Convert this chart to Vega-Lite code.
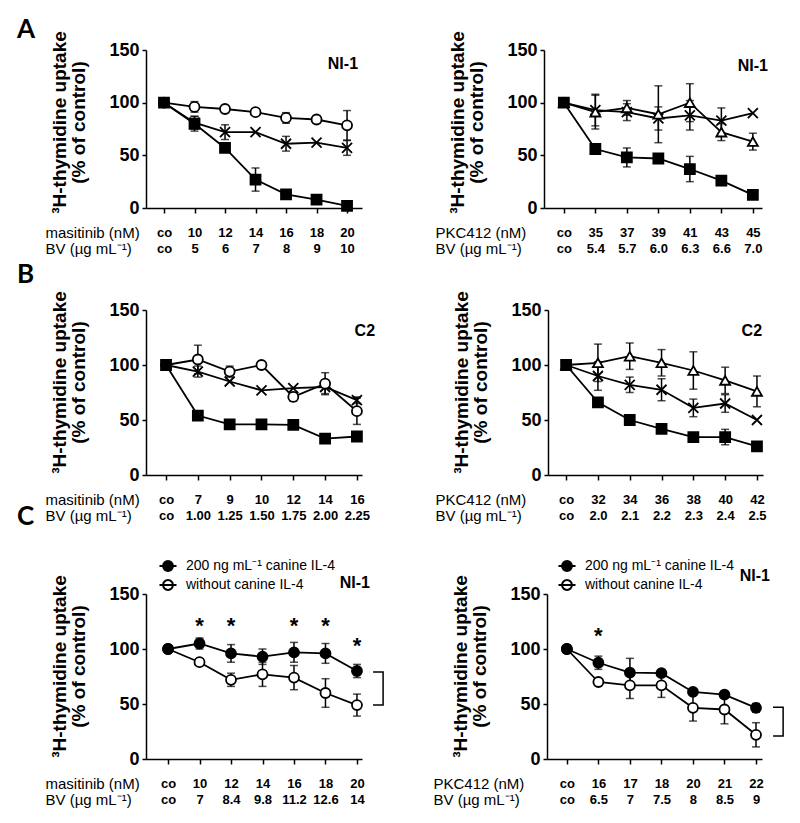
{
"$schema": "https://vega.github.io/schema/vega-lite/v6.json",
"autosize": {"type": "pad"},
"padding": {"left": 17, "top": 16, "right": 5, "bottom": 5},
"background": "white",
"config": {
  "font": "Liberation Sans",
  "view": {"stroke": null},
  "axis": {"domainColor": "black", "domainWidth": 1.5, "tickColor": "black", "tickWidth": 1.5, "labelColor": "black", "titleColor": "black", "grid": false, "labelFont": "Liberation Sans", "titleFont": "Liberation Sans", "labelFlush": false, "labelOverlap": false},
  "axisX": {"tickSize": 5, "labelFontSize": 13, "labelFontWeight": "bold", "labelPadding": 13, "labelLineHeight": 16, "labelBaseline": "top", "titleFontSize": 15, "titleFontWeight": "normal", "titleAnchor": "start", "titleAlign": "left", "titleBaseline": "top", "titleLineHeight": 16, "titleY": 17},
  "axisY": {"tickSize": 4, "labelFontSize": 18, "labelFontWeight": "bold", "labelPadding": 3, "titleFontSize": 19, "titleFontWeight": "bold", "titleLineHeight": 19, "titleAlign": "center", "titleBaseline": "bottom", "titleX": -77, "titleY": 72},
  "title": {"anchor": "start", "frame": "group", "font": "Lato", "fontSize": 26, "fontWeight": "bold", "color": "black", "dx": -129},
  "legend": {"labelFont": "Liberation Sans", "labelFontSize": 14, "labelColor": "black"}
},
"datasets": {
  "A1": [
    {"i":0,"s":"x","v":100,"e":0},{"i":1,"s":"x","v":81,"e":6},{"i":2,"s":"x","v":72,"e":7},{"i":3,"s":"x","v":72,"e":0},{"i":4,"s":"x","v":61,"e":7},{"i":5,"s":"x","v":62,"e":0},{"i":6,"s":"x","v":57,"e":7},
    {"i":0,"s":"ci","v":100,"e":0},{"i":1,"s":"ci","v":96,"e":5},{"i":2,"s":"ci","v":94,"e":0},{"i":3,"s":"ci","v":91,"e":3},{"i":4,"s":"ci","v":85.5,"e":5},{"i":5,"s":"ci","v":84,"e":3},{"i":6,"s":"ci","v":78.5,"e":14},
    {"i":0,"s":"sq","v":100,"e":0},{"i":1,"s":"sq","v":80,"e":7},{"i":2,"s":"sq","v":57,"e":3},{"i":3,"s":"sq","v":27,"e":11},{"i":4,"s":"sq","v":13,"e":0},{"i":5,"s":"sq","v":8,"e":0},{"i":6,"s":"sq","v":2,"e":0}
  ],
  "A2": [
    {"i":0,"s":"x","v":100,"e":0},{"i":1,"s":"x","v":93,"e":15},{"i":2,"s":"x","v":91,"e":8},{"i":3,"s":"x","v":85,"e":11},{"i":4,"s":"x","v":88,"e":14},{"i":5,"s":"x","v":83,"e":12},{"i":6,"s":"x","v":90,"e":0},
    {"i":0,"s":"tr","v":100,"e":0},{"i":1,"s":"tr","v":91,"e":16},{"i":2,"s":"tr","v":95,"e":7},{"i":3,"s":"tr","v":89,"e":27},{"i":4,"s":"tr","v":100,"e":18},{"i":5,"s":"tr","v":72,"e":8},{"i":6,"s":"tr","v":63,"e":8},
    {"i":0,"s":"sq","v":100,"e":0},{"i":1,"s":"sq","v":56,"e":0},{"i":2,"s":"sq","v":48,"e":9},{"i":3,"s":"sq","v":47,"e":0},{"i":4,"s":"sq","v":37,"e":12},{"i":5,"s":"sq","v":26,"e":0},{"i":6,"s":"sq","v":12.5,"e":0}
  ],
  "B1": [
    {"i":0,"s":"x","v":100,"e":0},{"i":1,"s":"x","v":94,"e":5},{"i":2,"s":"x","v":85,"e":0},{"i":3,"s":"x","v":77,"e":0},{"i":4,"s":"x","v":79,"e":0},{"i":5,"s":"x","v":80,"e":6},{"i":6,"s":"x","v":68,"e":3},
    {"i":0,"s":"ci","v":100,"e":0},{"i":1,"s":"ci","v":105,"e":13},{"i":2,"s":"ci","v":94,"e":5},{"i":3,"s":"ci","v":100,"e":0},{"i":4,"s":"ci","v":71,"e":4},{"i":5,"s":"ci","v":83,"e":10},{"i":6,"s":"ci","v":58,"e":12},
    {"i":0,"s":"sq","v":100,"e":0},{"i":1,"s":"sq","v":54,"e":0},{"i":2,"s":"sq","v":46,"e":0},{"i":3,"s":"sq","v":46,"e":0},{"i":4,"s":"sq","v":45.5,"e":0},{"i":5,"s":"sq","v":33,"e":0},{"i":6,"s":"sq","v":35,"e":0}
  ],
  "B2": [
    {"i":0,"s":"x","v":100,"e":0},{"i":1,"s":"x","v":90,"e":13},{"i":2,"s":"x","v":82,"e":7},{"i":3,"s":"x","v":77.5,"e":10},{"i":4,"s":"x","v":61,"e":8},{"i":5,"s":"x","v":65,"e":8},{"i":6,"s":"x","v":50,"e":0},
    {"i":0,"s":"tr","v":100,"e":0},{"i":1,"s":"tr","v":102,"e":17},{"i":2,"s":"tr","v":108,"e":12},{"i":3,"s":"tr","v":102,"e":12},{"i":4,"s":"tr","v":95,"e":17},{"i":5,"s":"tr","v":86,"e":12},{"i":6,"s":"tr","v":76,"e":14},
    {"i":0,"s":"sq","v":100,"e":0},{"i":1,"s":"sq","v":66,"e":0},{"i":2,"s":"sq","v":50,"e":0},{"i":3,"s":"sq","v":42,"e":0},{"i":4,"s":"sq","v":34.5,"e":0},{"i":5,"s":"sq","v":34.5,"e":7},{"i":6,"s":"sq","v":26,"e":0}
  ],
  "C1": [
    {"i":0,"s":"without canine IL-4","v":100,"e":0},{"i":1,"s":"without canine IL-4","v":88,"e":3},{"i":2,"s":"without canine IL-4","v":72,"e":6},{"i":3,"s":"without canine IL-4","v":77,"e":11},{"i":4,"s":"without canine IL-4","v":74,"e":11},{"i":5,"s":"without canine IL-4","v":60,"e":13},{"i":6,"s":"without canine IL-4","v":49,"e":10},
    {"i":0,"s":"200 ng mL⁻¹ canine IL-4","v":100,"e":0},{"i":1,"s":"200 ng mL⁻¹ canine IL-4","v":105,"e":5},{"i":2,"s":"200 ng mL⁻¹ canine IL-4","v":96,"e":8},{"i":3,"s":"200 ng mL⁻¹ canine IL-4","v":93,"e":7},{"i":4,"s":"200 ng mL⁻¹ canine IL-4","v":97,"e":9},{"i":5,"s":"200 ng mL⁻¹ canine IL-4","v":96,"e":9},{"i":6,"s":"200 ng mL⁻¹ canine IL-4","v":80,"e":6}
  ],
  "C2": [
    {"i":0,"s":"without canine IL-4","v":100,"e":0},{"i":1,"s":"without canine IL-4","v":70,"e":0},{"i":2,"s":"without canine IL-4","v":67,"e":12},{"i":3,"s":"without canine IL-4","v":67,"e":11},{"i":4,"s":"without canine IL-4","v":46.5,"e":12},{"i":5,"s":"without canine IL-4","v":45,"e":13},{"i":6,"s":"without canine IL-4","v":22,"e":11},
    {"i":0,"s":"200 ng mL⁻¹ canine IL-4","v":100,"e":0},{"i":1,"s":"200 ng mL⁻¹ canine IL-4","v":87.5,"e":6},{"i":2,"s":"200 ng mL⁻¹ canine IL-4","v":78.5,"e":13},{"i":3,"s":"200 ng mL⁻¹ canine IL-4","v":78,"e":0},{"i":4,"s":"200 ng mL⁻¹ canine IL-4","v":61,"e":0},{"i":5,"s":"200 ng mL⁻¹ canine IL-4","v":58.5,"e":0},{"i":6,"s":"200 ng mL⁻¹ canine IL-4","v":46.5,"e":4}
  ],
  "A1lab": [{"i":6.36,"v":137,"t":"NI-1"}],
  "A2lab": [{"i":6.48,"v":135,"t":"NI-1"}],
  "B1lab": [{"i":6.57,"v":131,"t":"C2"}],
  "B2lab": [{"i":6.16,"v":131,"t":"C2"}],
  "C1lab": [{"i":6.41,"v":160,"t":"NI-1"}],
  "C2lab": [{"i":6.44,"v":166,"t":"NI-1"}],
  "C1stars": [{"i":1,"v":123},{"i":2,"v":123},{"i":4,"v":123},{"i":5,"v":123},{"i":6,"v":105}],
  "C2stars": [{"i":1,"v":114}],
  "C1br": [{"i":6.51,"v":79,"o":1},{"i":6.83,"v":79,"o":2},{"i":6.83,"v":49,"o":3},{"i":6.51,"v":49,"o":4}],
  "C2br": [{"i":6.54,"v":47,"o":1},{"i":6.86,"v":47,"o":2},{"i":6.86,"v":21,"o":3},{"i":6.54,"v":21,"o":4}]
},
"vconcat": [
 {"vconcat": [
  {"hconcat": [
   {"title": {"text": "A", "offset": -12}, "width": 216, "height": 158, "data": {"name": "A1"},
    "encoding": {
      "x": {"field": "i", "type": "quantitative", "scale": {"domain": [-0.59, 6.49], "nice": false, "zero": false},
            "axis": {"values": [0,1,2,3,4,5,6], "title": ["masitinib (nM)", "BV (µg mL⁻¹)"], "titleX": -101, "labelExpr": "[['co','co'],['10','5'],['12','6'],['14','7'],['16','8'],['18','9'],['20','10']][datum.value]"}},
      "y": {"field": "v", "type": "quantitative", "scale": {"domain": [0, 150], "nice": false}, "axis": {"values": [0,50,100,150], "title": ["³H-thymidine uptake", "(% of control)"]}}
    },
    "layer": [
      {"transform": [{"filter": "datum.e > 0"}], "mark": {"type": "errorbar", "ticks": {"size": 8}, "thickness": 1.5, "color": "black"}, "encoding": {"yError": {"field": "e"}}},
      {"mark": {"type": "line", "color": "black", "strokeWidth": 1.8}, "encoding": {"detail": {"field": "s"}}},
      {"mark": {"type": "point", "filled": true, "stroke": "black", "strokeWidth": 1.8, "opacity": 1, "size": 100},
       "encoding": {"shape": {"field": "s", "scale": {"domain": ["sq", "ci", "tr", "x"], "range": ["square", "circle", "triangle-up", "M-1,-1L1,1M-1,1L1,-1"]}, "legend": null},
                    "fill": {"field": "s", "scale": {"domain": ["sq", "ci", "tr", "x"], "range": ["black", "white", "white", "white"]}, "legend": null}}},
      {"data": {"name": "A1lab"}, "mark": {"type": "text", "align": "right", "baseline": "middle", "fontSize": 16, "fontWeight": "bold"}, "encoding": {"text": {"field": "t"}}}
    ]},
   {"width": 218, "height": 158, "data": {"name": "A2"},
    "encoding": {
      "x": {"field": "i", "type": "quantitative", "scale": {"domain": [-0.63, 6.29], "nice": false, "zero": false},
            "axis": {"values": [0,1,2,3,4,5,6], "title": ["PKC412 (nM)", "BV (µg mL⁻¹)"], "titleX": -109, "labelExpr": "[['co','co'],['35','5.4'],['37','5.7'],['39','6.0'],['41','6.3'],['43','6.6'],['45','7.0']][datum.value]"}},
      "y": {"field": "v", "type": "quantitative", "scale": {"domain": [0, 150], "nice": false}, "axis": {"values": [0,50,100,150], "title": ["³H-thymidine uptake", "(% of control)"]}}
    },
    "layer": [
      {"transform": [{"filter": "datum.e > 0"}], "mark": {"type": "errorbar", "ticks": {"size": 8}, "thickness": 1.5, "color": "black"}, "encoding": {"yError": {"field": "e"}}},
      {"mark": {"type": "line", "color": "black", "strokeWidth": 1.8}, "encoding": {"detail": {"field": "s"}}},
      {"mark": {"type": "point", "filled": true, "stroke": "black", "strokeWidth": 1.8, "opacity": 1, "size": 100},
       "encoding": {"shape": {"field": "s", "scale": {"domain": ["sq", "ci", "tr", "x"], "range": ["square", "circle", "triangle-up", "M-1,-1L1,1M-1,1L1,-1"]}, "legend": null},
                    "fill": {"field": "s", "scale": {"domain": ["sq", "ci", "tr", "x"], "range": ["black", "white", "white", "white"]}, "legend": null}}},
      {"data": {"name": "A2lab"}, "mark": {"type": "text", "align": "right", "baseline": "middle", "fontSize": 16, "fontWeight": "bold"}, "encoding": {"text": {"field": "t"}}}
    ]}
  ], "spacing": 182, "bounds": "flush",
  "resolve": {"scale": {"x": "independent", "y": "independent", "fill": "independent", "shape": "independent"}, "axis": {"x": "independent", "y": "independent"}, "legend": {"fill": "independent", "shape": "independent"}}},
  {"hconcat": [
   {"title": {"text": "B", "offset": 3}, "width": 216, "height": 165, "data": {"name": "B1"},
    "encoding": {
      "x": {"field": "i", "type": "quantitative", "scale": {"domain": [-0.63, 6.16], "nice": false, "zero": false},
            "axis": {"values": [0,1,2,3,4,5,6], "title": ["masitinib (nM)", "BV (µg mL⁻¹)"], "titleX": -101, "labelExpr": "[['co','co'],['7','1.00'],['9','1.25'],['10','1.50'],['12','1.75'],['14','2.00'],['16','2.25']][datum.value]"}},
      "y": {"field": "v", "type": "quantitative", "scale": {"domain": [0, 150], "nice": false}, "axis": {"values": [0,50,100,150], "title": ["³H-thymidine uptake", "(% of control)"]}}
    },
    "layer": [
      {"transform": [{"filter": "datum.e > 0"}], "mark": {"type": "errorbar", "ticks": {"size": 8}, "thickness": 1.5, "color": "black"}, "encoding": {"yError": {"field": "e"}}},
      {"mark": {"type": "line", "color": "black", "strokeWidth": 1.8}, "encoding": {"detail": {"field": "s"}}},
      {"mark": {"type": "point", "filled": true, "stroke": "black", "strokeWidth": 1.8, "opacity": 1, "size": 100},
       "encoding": {"shape": {"field": "s", "scale": {"domain": ["sq", "ci", "tr", "x"], "range": ["square", "circle", "triangle-up", "M-1,-1L1,1M-1,1L1,-1"]}, "legend": null},
                    "fill": {"field": "s", "scale": {"domain": ["sq", "ci", "tr", "x"], "range": ["black", "white", "white", "white"]}, "legend": null}}},
      {"data": {"name": "B1lab"}, "mark": {"type": "text", "align": "right", "baseline": "middle", "fontSize": 16, "fontWeight": "bold"}, "encoding": {"text": {"field": "t"}}}
    ]},
   {"width": 215, "height": 165, "data": {"name": "B2"},
    "encoding": {
      "x": {"field": "i", "type": "quantitative", "scale": {"domain": [-0.57, 6.19], "nice": false, "zero": false},
            "axis": {"values": [0,1,2,3,4,5,6], "title": ["PKC412 (nM)", "BV (µg mL⁻¹)"], "titleX": -113, "labelExpr": "[['co','co'],['32','2.0'],['34','2.1'],['36','2.2'],['38','2.3'],['40','2.4'],['42','2.5']][datum.value]"}},
      "y": {"field": "v", "type": "quantitative", "scale": {"domain": [0, 150], "nice": false}, "axis": {"values": [0,50,100,150], "title": ["³H-thymidine uptake", "(% of control)"]}}
    },
    "layer": [
      {"transform": [{"filter": "datum.e > 0"}], "mark": {"type": "errorbar", "ticks": {"size": 8}, "thickness": 1.5, "color": "black"}, "encoding": {"yError": {"field": "e"}}},
      {"mark": {"type": "line", "color": "black", "strokeWidth": 1.8}, "encoding": {"detail": {"field": "s"}}},
      {"mark": {"type": "point", "filled": true, "stroke": "black", "strokeWidth": 1.8, "opacity": 1, "size": 100},
       "encoding": {"shape": {"field": "s", "scale": {"domain": ["sq", "ci", "tr", "x"], "range": ["square", "circle", "triangle-up", "M-1,-1L1,1M-1,1L1,-1"]}, "legend": null},
                    "fill": {"field": "s", "scale": {"domain": ["sq", "ci", "tr", "x"], "range": ["black", "white", "white", "white"]}, "legend": null}}},
      {"data": {"name": "B2lab"}, "mark": {"type": "text", "align": "right", "baseline": "middle", "fontSize": 16, "fontWeight": "bold"}, "encoding": {"text": {"field": "t"}}}
    ]}
  ], "spacing": 186, "bounds": "flush",
  "resolve": {"scale": {"x": "independent", "y": "independent", "fill": "independent", "shape": "independent"}, "axis": {"x": "independent", "y": "independent"}, "legend": {"fill": "independent", "shape": "independent"}}}
 ], "spacing": 5,
 "resolve": {"scale": {"x": "independent", "y": "independent", "fill": "independent", "shape": "independent"}, "axis": {"x": "independent", "y": "independent"}, "legend": {"fill": "independent", "shape": "independent"}}},
 {"hconcat": [
   {"title": {"text": "C", "offset": 26}, "width": 216, "height": 165, "data": {"name": "C1"},
    "encoding": {
      "x": {"field": "i", "type": "quantitative", "scale": {"domain": [-0.70, 6.16], "nice": false, "zero": false},
            "axis": {"values": [0,1,2,3,4,5,6], "title": ["masitinib (nM)", "BV (µg mL⁻¹)"], "titleX": -101, "labelExpr": "[['co','co'],['10','7'],['12','8.4'],['14','9.8'],['16','11.2'],['18','12.6'],['20','14']][datum.value]"}},
      "y": {"field": "v", "type": "quantitative", "scale": {"domain": [0, 150], "nice": false}, "axis": {"values": [0,50,100,150], "title": ["³H-thymidine uptake", "(% of control)"]}}
    },
    "layer": [
      {"transform": [{"filter": "datum.e > 0"}], "mark": {"type": "errorbar", "ticks": {"size": 8}, "thickness": 1.5, "color": "black"}, "encoding": {"yError": {"field": "e"}}},
      {"mark": {"type": "line", "color": "black", "strokeWidth": 1.8}, "encoding": {"detail": {"field": "s"}}},
      {"mark": {"type": "point", "filled": true, "stroke": "black", "strokeWidth": 1.8, "opacity": 1, "size": 100, "shape": "circle"},
       "encoding": {"fill": {"field": "s", "scale": {"domain": ["200 ng mL⁻¹ canine IL-4", "without canine IL-4"], "range": ["black", "white"]},
          "legend": {"orient": "none", "legendX": 12, "legendY": -38, "title": null, "symbolType": "M-1,0L1,0M0.58,0A0.58,0.58,0,1,1,-0.58,0A0.58,0.58,0,1,1,0.58,0Z", "symbolSize": 290, "symbolStrokeColor": "black", "symbolStrokeWidth": 2, "labelOffset": 8, "rowPadding": 0, "symbolOpacity": 1}}}},
      {"data": {"name": "C1stars"}, "mark": {"type": "text", "baseline": "alphabetic", "fontSize": 22, "fontWeight": "bold", "dy": 9}, "encoding": {"text": {"value": "*"}}},
      {"data": {"name": "C1br"}, "mark": {"type": "line", "color": "black", "strokeWidth": 1.5}, "encoding": {"order": {"field": "o"}}},
      {"data": {"name": "C1lab"}, "mark": {"type": "text", "align": "right", "baseline": "middle", "fontSize": 16, "fontWeight": "bold"}, "encoding": {"text": {"field": "t"}}}
    ]},
   {"width": 215, "height": 165, "data": {"name": "C2"},
    "encoding": {
      "x": {"field": "i", "type": "quantitative", "scale": {"domain": [-0.63, 6.19], "nice": false, "zero": false},
            "axis": {"values": [0,1,2,3,4,5,6], "title": ["PKC412 (nM)", "BV (µg mL⁻¹)"], "titleX": -114, "labelExpr": "[['co','co'],['16','6.5'],['17','7'],['18','7.5'],['20','8'],['21','8.5'],['22','9']][datum.value]"}},
      "y": {"field": "v", "type": "quantitative", "scale": {"domain": [0, 150], "nice": false}, "axis": {"values": [0,50,100,150], "title": ["³H-thymidine uptake", "(% of control)"]}}
    },
    "layer": [
      {"transform": [{"filter": "datum.e > 0"}], "mark": {"type": "errorbar", "ticks": {"size": 8}, "thickness": 1.5, "color": "black"}, "encoding": {"yError": {"field": "e"}}},
      {"mark": {"type": "line", "color": "black", "strokeWidth": 1.8}, "encoding": {"detail": {"field": "s"}}},
      {"mark": {"type": "point", "filled": true, "stroke": "black", "strokeWidth": 1.8, "opacity": 1, "size": 100, "shape": "circle"},
       "encoding": {"fill": {"field": "s", "scale": {"domain": ["200 ng mL⁻¹ canine IL-4", "without canine IL-4"], "range": ["black", "white"]},
          "legend": {"orient": "none", "legendX": 10, "legendY": -38, "title": null, "symbolType": "M-1,0L1,0M0.58,0A0.58,0.58,0,1,1,-0.58,0A0.58,0.58,0,1,1,0.58,0Z", "symbolSize": 290, "symbolStrokeColor": "black", "symbolStrokeWidth": 2, "labelOffset": 8, "rowPadding": 0, "symbolOpacity": 1}}}},
      {"data": {"name": "C2stars"}, "mark": {"type": "text", "baseline": "alphabetic", "fontSize": 22, "fontWeight": "bold", "dy": 9}, "encoding": {"text": {"value": "*"}}},
      {"data": {"name": "C2br"}, "mark": {"type": "line", "color": "black", "strokeWidth": 1.5}, "encoding": {"order": {"field": "o"}}},
      {"data": {"name": "C2lab"}, "mark": {"type": "text", "align": "right", "baseline": "middle", "fontSize": 16, "fontWeight": "bold"}, "encoding": {"text": {"field": "t"}}}
    ]}
  ], "spacing": 185, "bounds": "flush",
  "resolve": {"scale": {"x": "independent", "y": "independent", "fill": "independent", "shape": "independent"}, "axis": {"x": "independent", "y": "independent"}, "legend": {"fill": "independent", "shape": "independent"}}}
],
"spacing": -19,
"resolve": {"scale": {"x": "independent", "y": "independent", "fill": "independent", "shape": "independent"}, "axis": {"x": "independent", "y": "independent"}, "legend": {"fill": "independent", "shape": "independent"}}
}
